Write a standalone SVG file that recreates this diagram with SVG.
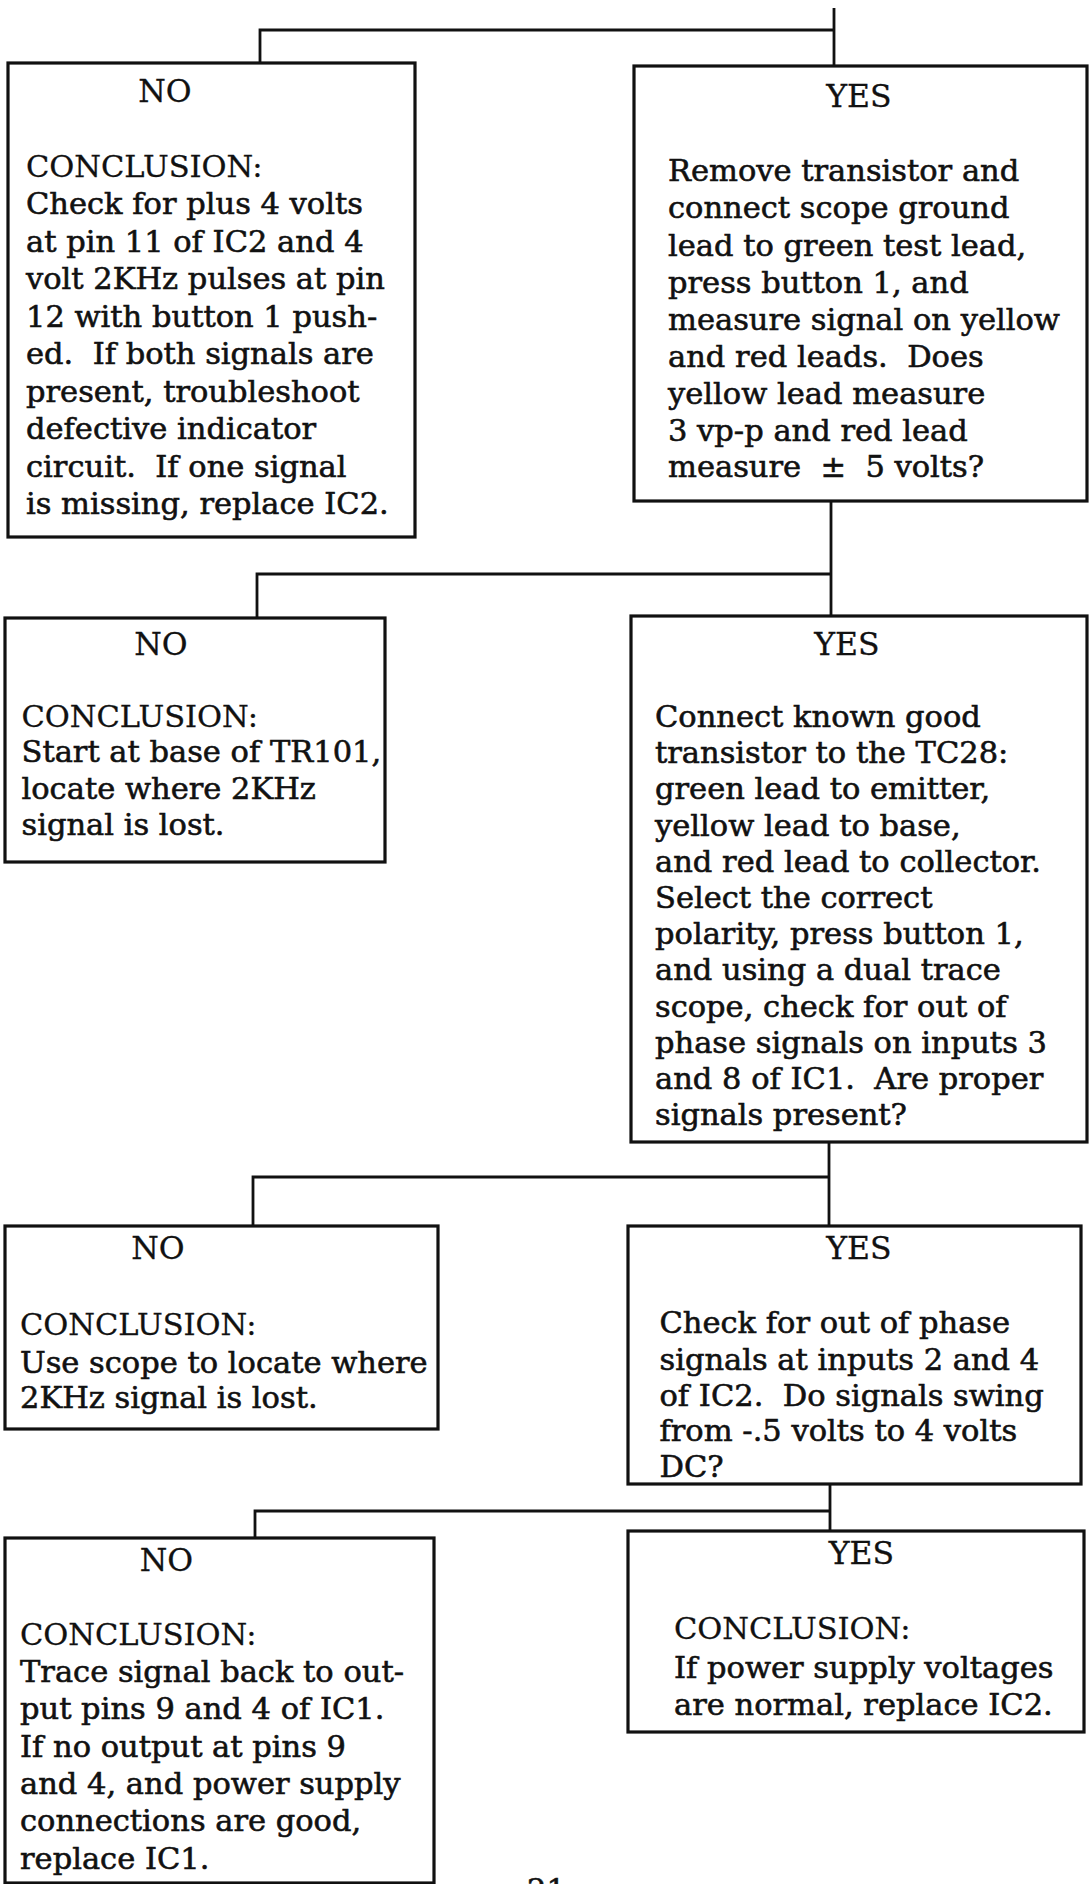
<svg xmlns="http://www.w3.org/2000/svg" width="1089" height="1884" viewBox="0 0 1089 1884">
<style>
  .box { fill: #ffffff; stroke: #111111; stroke-width: 3.2; }
  .conn { fill: none; stroke: #111111; stroke-width: 2.8; }
  text { font-family: "DejaVu Serif", "Liberation Serif", serif; font-size: 30.5px; fill: #111111; white-space: pre; stroke: #111111; stroke-width: 0.6px; }
  .hd { text-anchor: middle; font-size: 31.5px; stroke-width: 0.3px; }
  .cc { stroke-width: 0.3px; }
</style>
<rect x="0" y="0" width="1089" height="1884" fill="#ffffff"/>

<g id="connectors">
  <path class="conn" d="M834 8 V66 M834 30 H260 V63"/>
  <path class="conn" d="M831 501 V616 M831 574 H257 V618"/>
  <path class="conn" d="M829 1142 V1226 M829 1177 H253 V1226"/>
  <path class="conn" d="M830 1484 V1531 M830 1511 H255 V1538"/>
</g>

<g id="no1">
  <rect class="box" x="8" y="63" width="407" height="474"/>
  <text class="hd" x="165" y="102">NO</text>
  <text class="cc" x="26" y="177">CONCLUSION:</text>
  <text x="26" y="214">Check for plus 4 volts</text>
  <text x="26" y="251.5">at pin 11 of IC2 and 4</text>
  <text x="26" y="289">volt 2KHz pulses at pin</text>
  <text x="26" y="326.5">12 with button 1 push-</text>
  <text x="26" y="364">ed.  If both signals are</text>
  <text x="26" y="401.5">present, troubleshoot</text>
  <text x="26" y="439">defective indicator</text>
  <text x="26" y="476.5">circuit.  If one signal</text>
  <text x="26" y="514">is missing, replace IC2.</text>
</g>

<g id="yes1">
  <rect class="box" x="634" y="66" width="453" height="435"/>
  <text class="hd" x="859" y="107">YES</text>
  <text x="668" y="181">Remove transistor and</text>
  <text x="668" y="218">connect scope ground</text>
  <text x="668" y="256">lead to green test lead,</text>
  <text x="668" y="293">press button 1, and</text>
  <text x="668" y="330">measure signal on yellow</text>
  <text x="668" y="367">and red leads.  Does</text>
  <text x="668" y="404">yellow lead measure</text>
  <text x="668" y="441">3 vp-p and red lead</text>
  <text x="668" y="477">measure  ±  5 volts?</text>
</g>

<g id="no2">
  <rect class="box" x="5" y="618" width="380" height="244"/>
  <text class="hd" x="161" y="654.5">NO</text>
  <text class="cc" x="21.5" y="727">CONCLUSION:</text>
  <text x="21.5" y="762">Start at base of TR101,</text>
  <text x="21.5" y="798.5">locate where 2KHz</text>
  <text x="21.5" y="835">signal is lost.</text>
</g>

<g id="yes2">
  <rect class="box" x="631" y="616" width="456" height="526"/>
  <text class="hd" x="847" y="654.5">YES</text>
  <text x="655" y="727">Connect known good</text>
  <text x="655" y="763.2">transistor to the TC28:</text>
  <text x="655" y="799.4">green lead to emitter,</text>
  <text x="655" y="835.6">yellow lead to base,</text>
  <text x="655" y="871.8">and red lead to collector.</text>
  <text x="655" y="908">Select the correct</text>
  <text x="655" y="944.2">polarity, press button 1,</text>
  <text x="655" y="980.4">and using a dual trace</text>
  <text x="655" y="1016.6">scope, check for out of</text>
  <text x="655" y="1052.8">phase signals on inputs 3</text>
  <text x="655" y="1089">and 8 of IC1.  Are proper</text>
  <text x="655" y="1125.2">signals present?</text>
</g>

<g id="no3">
  <rect class="box" x="5" y="1226" width="433" height="203"/>
  <text class="hd" x="158" y="1259">NO</text>
  <text class="cc" x="20" y="1335">CONCLUSION:</text>
  <text x="20" y="1373">Use scope to locate where</text>
  <text x="20" y="1408">2KHz signal is lost.</text>
</g>

<g id="yes3">
  <rect class="box" x="628" y="1226" width="453" height="258"/>
  <text class="hd" x="859" y="1259">YES</text>
  <text x="659.5" y="1333">Check for out of phase</text>
  <text x="659.5" y="1370">signals at inputs 2 and 4</text>
  <text x="659.5" y="1406">of IC2.  Do signals swing</text>
  <text x="659.5" y="1441">from -.5 volts to 4 volts</text>
  <text x="659.5" y="1477">DC?</text>
</g>

<g id="no4">
  <rect class="box" x="5" y="1538" width="429" height="345"/>
  <text class="hd" x="166.5" y="1571">NO</text>
  <text class="cc" x="20" y="1645">CONCLUSION:</text>
  <text x="20" y="1682">Trace signal back to out-</text>
  <text x="20" y="1719">put pins 9 and 4 of IC1.</text>
  <text x="20" y="1757">If no output at pins 9</text>
  <text x="20" y="1794">and 4, and power supply</text>
  <text x="20" y="1831">connections are good,</text>
  <text x="20" y="1869">replace IC1.</text>
</g>

<g id="yes4">
  <rect class="box" x="628" y="1531" width="456" height="201"/>
  <text class="hd" x="861.5" y="1564">YES</text>
  <text class="cc" x="674" y="1639">CONCLUSION:</text>
  <text x="674" y="1678">If power supply voltages</text>
  <text x="674" y="1715">are normal, replace IC2.</text>
</g>

<g id="page-number">
  <text x="527" y="1900">21</text>
</g>
</svg>
